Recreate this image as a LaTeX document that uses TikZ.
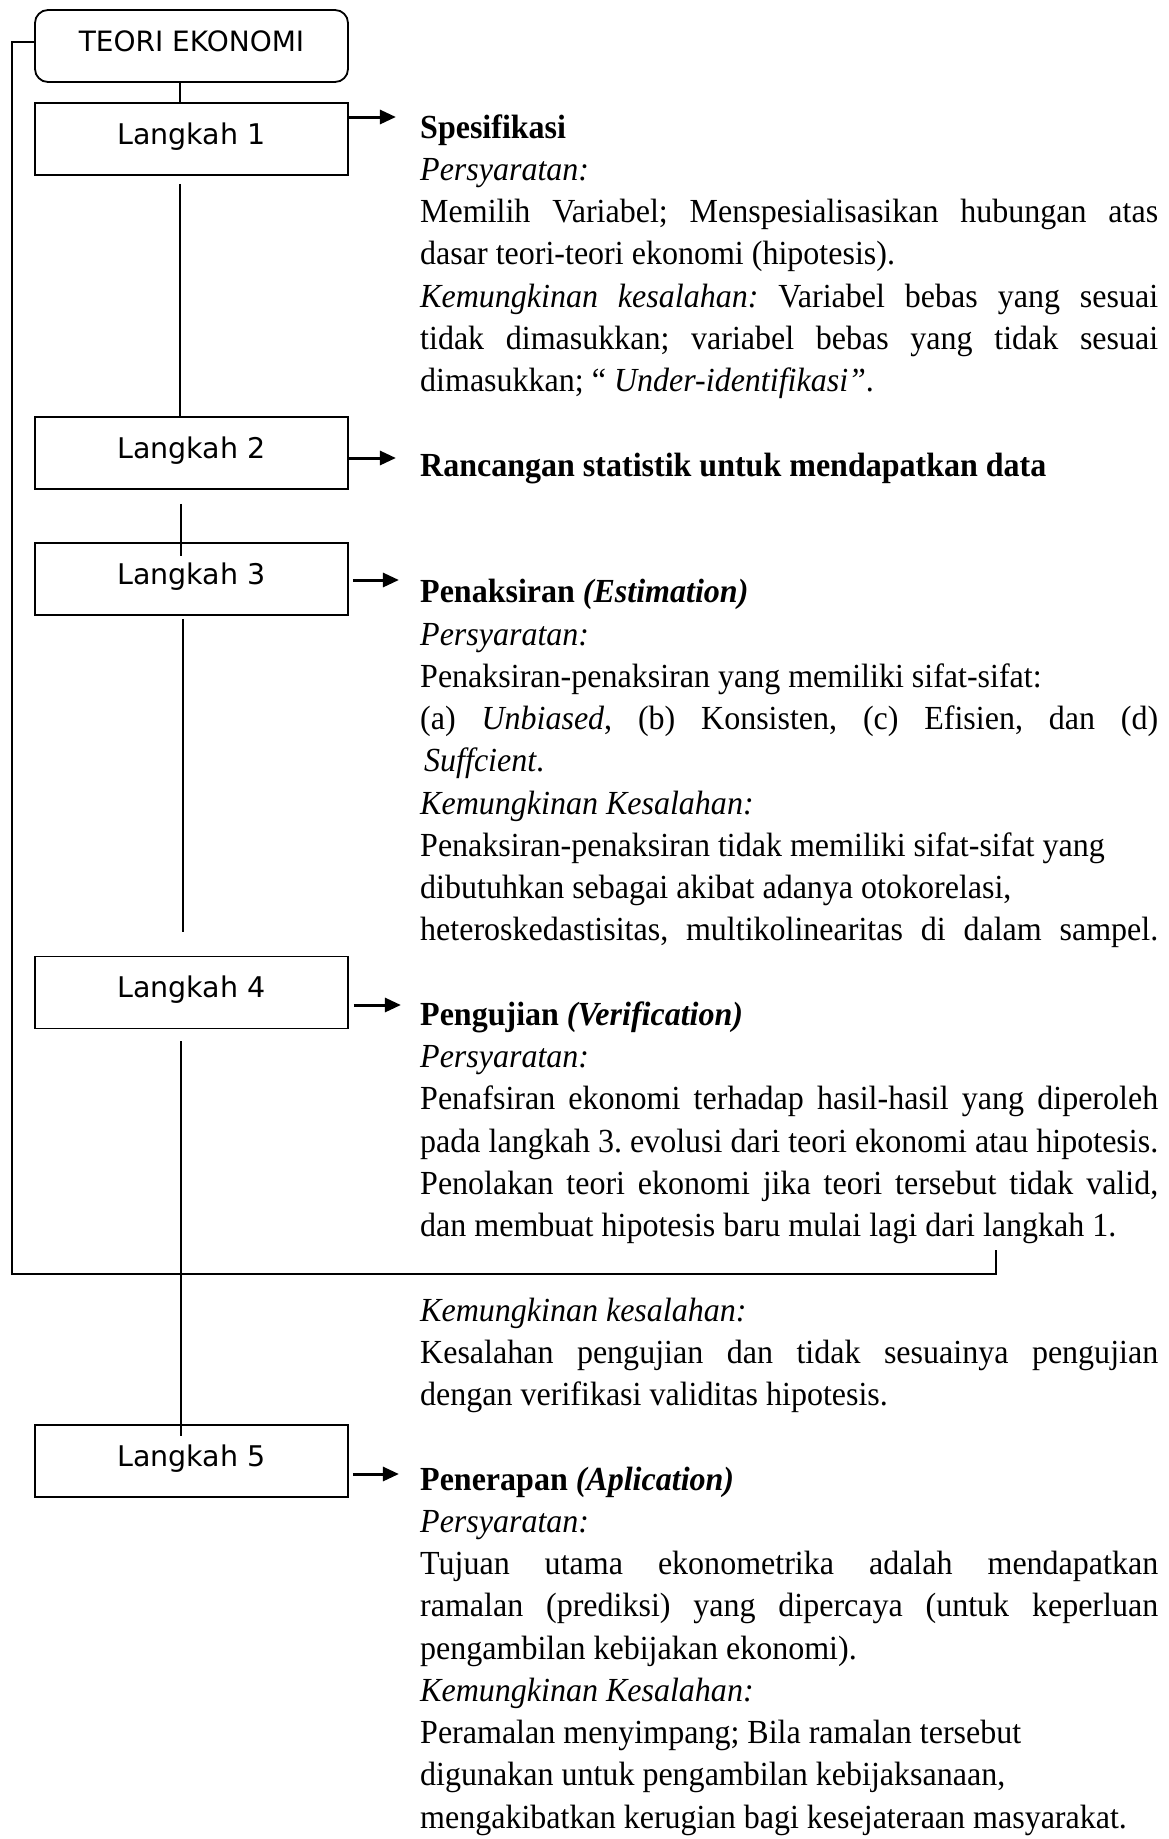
\documentclass[tikz,border=0pt]{standalone}
\usepackage{fontspec}
\setmainfont{Liberation Serif}[FakeStretch=0.95]
\newfontfamily\boxfont{DejaVu Sans}
\usetikzlibrary{arrows.meta}
\frenchspacing

% a line of text spread to the full column width
\newcommand{\jl}[1]{\makebox[\linewidth][s]{#1}}

\begin{document}
\begin{tikzpicture}[x=1pt,y=-1pt,
  stepbox/.style={draw, line width=1.8pt, minimum width=313pt, minimum height=72pt,
    inner sep=0pt, text height=20pt, text depth=10pt,
    font=\boxfont\fontsize{28.5}{34}\selectfont},
  topbox/.style={stepbox, rounded corners=13pt, font=\boxfont\fontsize{28}{34}\selectfont},
  link/.style={line width=2pt},
  pointer/.style={line width=3pt, -{Triangle[length=16pt,width=14pt]}},
  textblock/.style={anchor=base west, inner sep=0pt,
    font=\fontsize{33.7}{42.25}\selectfont},
]
\fill[white] (0,0) rectangle (1169,1839);
\useasboundingbox (0,0) rectangle (1169,1839);

% the chain of steps
\node[topbox]  (teori) at (191.5,46)    {TEORI EKONOMI};
\node[stepbox] (l1)    at (191.5,139)   {Langkah 1};
\node[stepbox] (l2)    at (191.5,453)   {Langkah 2};
\node[stepbox] (l3)    at (191.5,579)   {Langkah 3};
\node[stepbox] (l4)    at (191.5,992.5) {Langkah 4};
\node[stepbox] (l5)    at (191.5,1461)  {Langkah 5};

% vertical links between the steps
\draw[link] ([xshift=-11.5pt]teori.south) -- ([xshift=-11.5pt]l1.north);
\draw[link] ([xshift=-11.5pt,yshift=-8pt]l1.south) -- ([xshift=-11.5pt]l2.north);
\draw[link] ([xshift=-10.5pt,yshift=-14pt]l2.south) -- ([xshift=-10.5pt,yshift=-14pt]l3.north);
\draw[link] ([xshift=-8.5pt,yshift=-3pt]l3.south) -- ([xshift=-8.5pt,yshift=24pt]l4.north);
\draw[link] ([xshift=-10.5pt,yshift=-12pt]l4.south) -- ([xshift=-10.5pt,yshift=-12pt]l5.north);

% feedback loop back to the theory
\coordinate (loopend) at (996,1250);
\draw[link] ([yshift=4pt]teori.west) -| (12,1274) -| (loopend);

% pointers to the descriptions
\draw[pointer] ([yshift=22pt]l1.east) -- ++(47,0);
\draw[pointer] ([yshift=-5pt]l2.east) -- ++(47,0);
\draw[pointer] ([xshift=4pt,yshift=-1pt]l3.east) -- ++(46,0);
\draw[pointer] ([xshift=5pt,yshift=-12.5pt]l4.east) -- ++(47,0);
\draw[pointer] ([xshift=4pt,yshift=-13pt]l5.east) -- ++(46,0);

% descriptions
\node[textblock] (spek) at (420,138) {\parbox[t]{738pt}{%
  \textbf{Spesifikasi}\\
  \textit{Persyaratan:}\\
  \jl{Memilih Variabel; Menspesialisasikan hubungan atas}\\
  dasar teori-teori ekonomi (hipotesis).\\
  \jl{\textit{Kemungkinan kesalahan:} Variabel bebas yang sesuai}\\
  \jl{tidak dimasukkan; variabel bebas yang tidak sesuai}\\
  dimasukkan; “ \textit{Under-identifikasi”}.}};

\node[textblock] (ranc) at (420,476) {\textbf{Rancangan statistik untuk mendapatkan data}};

\node[textblock] (taks) at (420,602.75) {\parbox[t]{738pt}{%
  \textbf{Penaksiran \textit{(Estimation)}}\\
  \textit{Persyaratan:}\\
  Penaksiran-penaksiran yang memiliki sifat-sifat:\\
  \jl{(a) \textit{Unbiased}, (b) Konsisten, (c) Efisien, dan (d)}\\
  \hspace*{4pt}\textit{Suffcient}.\\
  \textit{Kemungkinan Kesalahan:}\\
  Penaksiran-penaksiran tidak memiliki sifat-sifat yang\\
  dibutuhkan sebagai akibat adanya otokorelasi,\\
  \jl{heteroskedastisitas, multikolinearitas di dalam sampel.}}};

\node[textblock] (uji) at (420,1025.25) {\parbox[t]{738pt}{%
  \textbf{Pengujian \textit{(Verification)}}\\
  \textit{Persyaratan:}\\
  \jl{Penafsiran ekonomi terhadap hasil-hasil yang diperoleh}\\
  \jl{pada langkah 3. evolusi dari teori ekonomi atau hipotesis.}\\
  \jl{Penolakan teori ekonomi jika teori tersebut tidak valid,}\\
  dan membuat hipotesis baru mulai lagi dari langkah 1.}};

\node[textblock] (salah) at (420,1321) {\parbox[t]{738pt}{%
  \textit{Kemungkinan kesalahan:}\\
  \jl{Kesalahan pengujian dan tidak sesuainya pengujian}\\
  dengan verifikasi validitas hipotesis.}};

\node[textblock] (terap) at (420,1490) {\parbox[t]{738pt}{%
  \textbf{Penerapan \textit{(Aplication)}}\\
  \textit{Persyaratan:}\\
  \jl{Tujuan utama ekonometrika adalah mendapatkan}\\
  \jl{ramalan (prediksi) yang dipercaya (untuk keperluan}\\
  pengambilan kebijakan ekonomi).\\
  \textit{Kemungkinan Kesalahan:}\\
  Peramalan menyimpang; Bila ramalan tersebut\\
  digunakan untuk pengambilan kebijaksanaan,\\
  mengakibatkan kerugian bagi kesejateraan masyarakat.}};
\end{tikzpicture}
\end{document}
